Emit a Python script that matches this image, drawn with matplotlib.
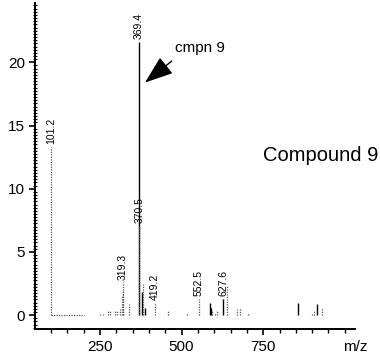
#!/usr/bin/env python3
"""
Mass spectrum of compound 9 (stick plot with labelled peaks).
"""
import matplotlib
matplotlib.use("Agg")
import matplotlib.pyplot as plt
from matplotlib.ticker import MultipleLocator, FixedLocator

# ─── Data ────────────────────────────────────────────────────────────────
mz = [101.2, 250.0, 259.0, 276.0, 280.0, 296.0, 302.0, 312.0,
      317.3, 319.3, 321.3, 339.0, 369.4, 370.5, 379.0, 382.0, 388.0,
      419.2, 458.0, 516.0, 552.5, 587.0, 590.0, 592.0, 602.0, 608.0,
      627.6, 638.0, 669.0, 679.0, 704.0, 857.0, 901.0, 906.0, 914.0, 929.0]
intensity = [13.3, 0.1, 0.1, 0.3, 0.3, 0.3, 0.3, 0.5,
             1.5, 2.6, 1.9, 0.9, 21.6, 7.1, 1.8, 2.5, 0.6,
             1.0, 0.3, 0.2, 1.3, 1.0, 0.6, 0.3, 0.2, 0.3,
             1.3, 2.3, 0.5, 0.6, 0.15, 1.0, 0.2, 0.3, 0.9, 0.6]

labelled = ["101.2", "319.3", "369.4", "370.5", "419.2", "552.5", "627.6"]

baseline_mz = [101.2, 200.0]          # noisy dotted baseline segment

compound_name = "Compound 9"
arrow_text = "cmpn 9"

# peaks drawn as solid black sticks, the rest look dotted/grey
SOLID = {369.4, 379.0, 388.0, 587.0, 590.0, 627.6, 857.0, 914.0}

plt.rcParams["font.family"] = ["Liberation Sans", "DejaVu Sans"]


def main():
    fig = plt.figure(figsize=(3.8, 3.62), dpi=100)
    ax = fig.add_axes([0.092, 0.091, 0.842, 0.901])

    for m, h in zip(mz, intensity):
        if m in SOLID:
            ax.vlines(m, 0, h, color="black", lw=1.0)
        else:
            ax.vlines(m, 0, h, color="0.35", lw=0.9, linestyles=(0, (1, 1)))

    ax.hlines(0, baseline_mz[0], baseline_mz[1], color="0.35", lw=0.9,
              linestyles=(0, (1, 1)))

    for lab in labelled:
        m = float(lab)
        h = intensity[mz.index(m)]
        ax.annotate(lab, (m, h), xytext=(0, 2), textcoords="offset points",
                    rotation=90, ha="center", va="bottom", fontsize=7.5)

    ax.annotate("", xy=(388, 18.4), xytext=(470, 20.1),
                arrowprops=dict(arrowstyle="-|>,head_length=1.1,head_width=0.4",
                                mutation_scale=16, color="black", lw=1.0,
                                shrinkA=0, shrinkB=0))
    ax.text(480, 21.1, arrow_text, fontsize=11, va="center", ha="left")
    ax.text(749, 12.66, compound_name, fontsize=14.5, va="center", ha="left")

    ax.set_xlim(51, 1031)
    ax.set_ylim(-1.1, 24.7)

    ax.xaxis.set_major_locator(FixedLocator([250, 500, 750]))
    ax.xaxis.set_minor_locator(MultipleLocator(50))
    ax.yaxis.set_major_locator(MultipleLocator(5))
    ax.yaxis.set_minor_locator(MultipleLocator(0.25))

    for side in ("top", "right"):
        ax.spines[side].set_visible(False)
    for side in ("left", "bottom"):
        ax.spines[side].set_linewidth(1.4)

    ax.tick_params(which="major", direction="out", length=4, width=1.2,
                   labelsize=11)
    ax.tick_params(axis="x", which="major", pad=4)
    ax.tick_params(axis="y", which="major", pad=3)
    ax.tick_params(axis="x", which="minor", direction="out", length=3, width=1.0)
    ax.tick_params(axis="y", which="minor", direction="inout", length=3, width=0.8)

    ax.text(1.0, -0.055, "m/z", transform=ax.transAxes, fontsize=11,
            ha="center", va="center")

    fig.savefig("out.png", dpi=100)


if __name__ == "__main__":
    main()
